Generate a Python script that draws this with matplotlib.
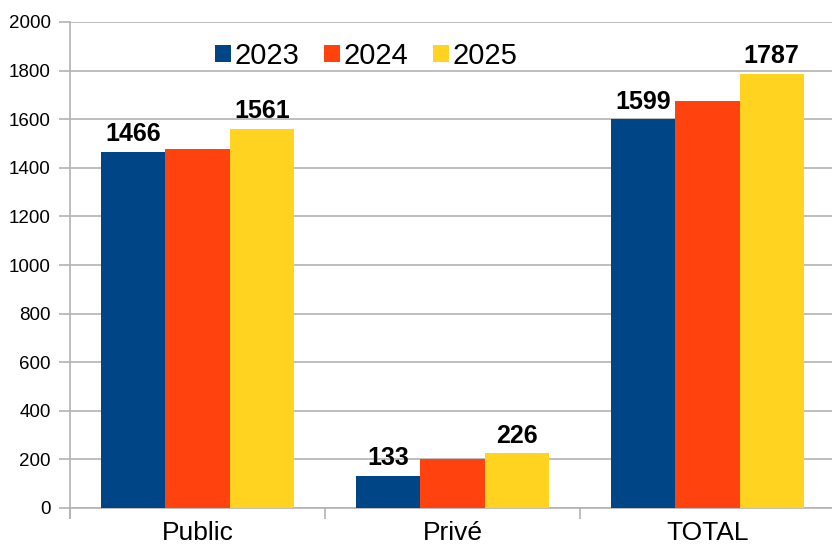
import matplotlib
matplotlib.use("Agg")
import matplotlib.pyplot as plt
import numpy as np

categories = ["Public", "Privé", "TOTAL"]
years = ["2023", "2024", "2025"]
v2023 = [1466, 133, 1599]
v2024 = [1476, 200, 1676]
v2025 = [1561, 226, 1787]
label_series = {"2023": True, "2024": False, "2025": True}
colors = ["#004586", "#ff420e", "#ffd320"]
yticks = list(range(0, 2001, 200))

plt.rcParams['font.family'] = ['Liberation Sans', 'DejaVu Sans']

fig = plt.figure(figsize=(8.32, 5.47), dpi=100)
ax = fig.add_axes([70/832, 1-508/547, 765/832, (508-22)/547])

x = np.arange(len(categories))
w = 0.252
series = [v2023, v2024, v2025]
for i, (yr, vals, c) in enumerate(zip(years, series, colors)):
    bars = ax.bar(x + (i-1)*w, vals, width=w, color=c, label=yr, zorder=3)
    if label_series[yr]:
        for b, v in zip(bars, vals):
            ax.annotate(str(v), (b.get_x()+b.get_width()/2, v), xytext=(0, 4),
                        textcoords="offset points", ha="center", va="bottom",
                        fontsize=18, fontweight="bold", color="black", zorder=4)

ax.set_xlim(-0.5, 2.5)
ax.set_ylim(0, 2000)
ax.set_yticks(yticks)
ax.set_yticklabels([str(t) for t in yticks], fontsize=13.5)
ax.set_xticks(x)
ax.set_xticklabels(categories, fontsize=19)
ax.set_xticks([-0.5, 0.5, 1.5, 2.5], minor=True)
ax.tick_params(axis='x', which='major', length=0, pad=9.5)
ax.tick_params(axis='x', which='minor', length=8, color='#b3b3b3', width=1.2)
ax.tick_params(axis='y', length=8, color='#b3b3b3', width=1.2, pad=6)
ax.yaxis.grid(True, color='#b3b3b3', linewidth=1.2, zorder=0)
ax.set_axisbelow(True)
for s in ['top', 'right']:
    ax.spines[s].set_visible(False)
for s in ['left', 'bottom']:
    ax.spines[s].set_color('#b3b3b3')
    ax.spines[s].set_linewidth(1.2)
ax.spines['left'].set_bounds(-40, 2000)

handles, labels = ax.get_legend_handles_labels()
fig.legend(handles, labels, loc='center', bbox_to_anchor=(366/832, 1-56/547), ncol=3,
           frameon=False, fontsize=21, handlelength=0.55, handleheight=0.55,
           handletextpad=0.12, columnspacing=0.85, borderpad=0)

fig.savefig("out.png", dpi=100)
